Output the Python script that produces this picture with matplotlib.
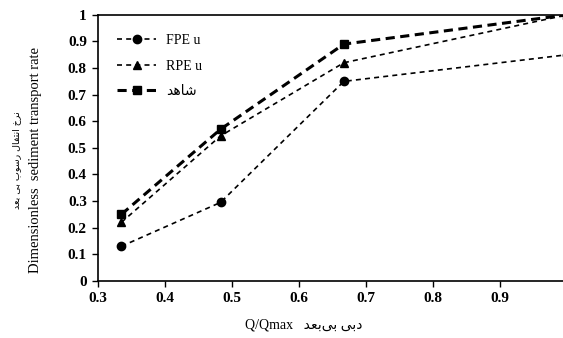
import matplotlib
matplotlib.use('Agg')
import matplotlib.pyplot as plt


def rtl(s):
    # arabic presentation forms written in logical order -> visual order
    return s[::-1]


# data
q = [0.335, 0.483, 0.667, 1.0]
fpe = [0.13, 0.295, 0.75, 0.85]
rpe = [0.22, 0.545, 0.82, 1.0]
obs = [0.25, 0.57, 0.89, 1.0]

xticks = [0.3, 0.4, 0.5, 0.6, 0.7, 0.8, 0.9]
yticks = [0, 0.1, 0.2, 0.3, 0.4, 0.5, 0.6, 0.7, 0.8, 0.9, 1]

lbl_obs = rtl('\uFEB7\uFE8E\uFEEB\uFEAA')  # shahed
xl_fa = rtl('\uFEA9\uFE91\uFEF0 \uFE91\uFEF0\uFE91\uFECC\uFEAA')  # dobi bi-bod
yl_fa = rtl('\uFEE7\uFEAE\uFEA5 \uFE8D\uFEE7\uFE98\uFED4\uFE8E\uFEDD '
            '\uFEAD\uFEB3\uFEEE\uFE8F \uFE91\uFEF0 \uFE91\uFECC\uFEAA')

fam = ['Liberation Serif', 'DejaVu Sans']

fig = plt.figure(figsize=(5.63, 3.38), dpi=100)
ax = fig.add_axes([0.174, 0.169, 0.833, 0.787])

ax.plot(q, fpe, color='black', lw=1.2, ls=(0, (3, 2.5)), marker='o', ms=6, label='FPE u')
ax.plot(q, rpe, color='black', lw=1.2, ls=(0, (3, 2.5)), marker='^', ms=6, label='RPE u')
ax.plot(q, obs, color='black', lw=2.2, ls=(0, (3, 1.8)), marker='s', ms=6, label=lbl_obs)

ax.set_xlim(0.3, 1.0)
ax.set_ylim(0, 1)
ax.set_xticks(xticks)
ax.set_yticks(yticks)
ax.set_xticklabels(['%g' % v for v in xticks], fontfamily='Liberation Serif',
                   fontweight='bold', fontsize=11)
ax.set_yticklabels(['%g' % v for v in yticks], fontfamily='Liberation Serif',
                   fontweight='bold', fontsize=11)
ax.tick_params(direction='out', length=4, width=1, pad=4)
for s in ax.spines.values():
    s.set_linewidth(1.2)

leg = ax.legend(loc='upper left', frameon=False, prop={'family': fam, 'size': 10},
                handlelength=2.8, handletextpad=0.7, labelspacing=0.9,
                borderaxespad=0.8, borderpad=0.6)

fig.text(0.54, 0.038, 'Q/Qmax   ' + xl_fa, ha='center', va='center',
         family=fam, fontsize=10)
fig.text(0.03, 0.527, yl_fa, rotation=90, ha='center', va='center',
         family='DejaVu Sans', fontsize=6.8)
fig.text(0.063, 0.527, 'Dimensionless  sediment transport rate', rotation=90,
         ha='center', va='center', family='Liberation Serif', fontsize=10.5)

fig.savefig('out.png', dpi=100)
